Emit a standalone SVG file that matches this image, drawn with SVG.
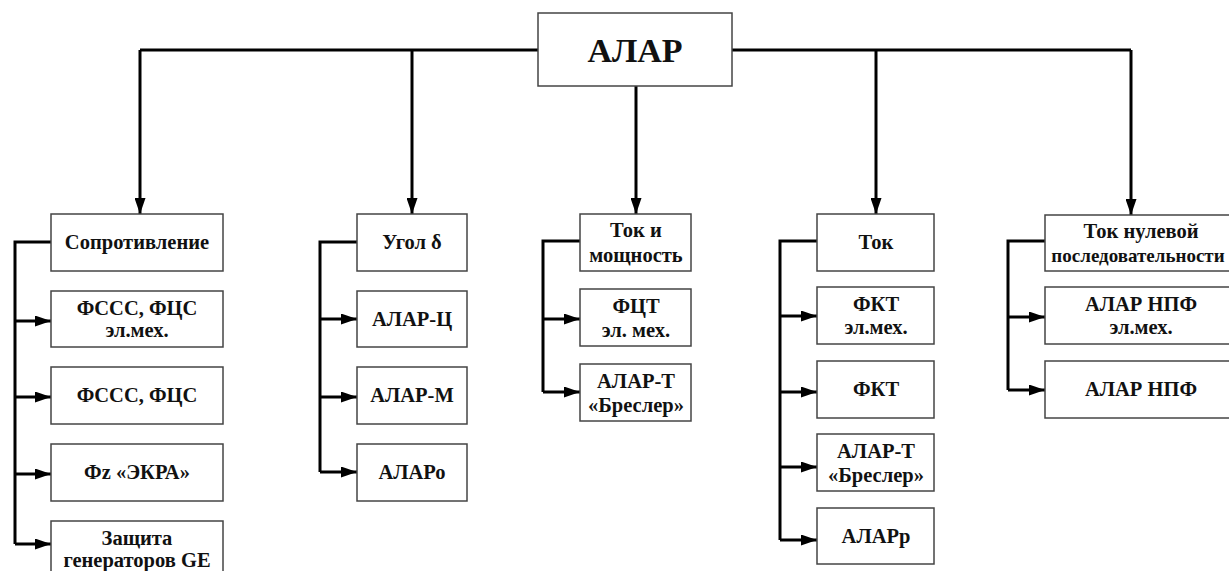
<svg xmlns="http://www.w3.org/2000/svg" width="1229" height="571" viewBox="0 0 1229 571">
<defs>
<marker id="ah" markerWidth="16" markerHeight="11" refX="16" refY="5.5" orient="auto" markerUnits="userSpaceOnUse">
<path d="M0,0 L16,5.5 L0,11 Z" fill="#000"/>
</marker>
<style>
.b{fill:#fff;stroke:#444;stroke-width:1.5}
.t{font-family:"Liberation Serif","Times New Roman",serif;font-weight:bold;font-size:20.5px;fill:#111;text-anchor:middle}
.big{font-size:34px}
.sm{font-size:19px}
.c{fill:none;stroke:#000;stroke-width:3}
.a{fill:none;stroke:#000;stroke-width:3;marker-end:url(#ah)}
</style>
</defs>
<rect width="1229" height="571" fill="#fff"/>
<g id="connectors">
<path class="c" d="M140,50 H1131"/>
<path class="a" d="M140,50 V214"/>
<path class="a" d="M412,50 V214"/>
<path class="a" d="M636,86 V214"/>
<path class="a" d="M876,50 V214"/>
<path class="a" d="M1131,50 V215"/>
<path class="c" d="M51,242 H15 V544"/>
<path class="a" d="M15,321 H51"/>
<path class="a" d="M15,397 H51"/>
<path class="a" d="M15,474 H51"/>
<path class="a" d="M15,544 H51"/>
<path class="c" d="M357,242 H320 V472"/>
<path class="a" d="M320,319 H357"/>
<path class="a" d="M320,397 H357"/>
<path class="a" d="M320,472 H357"/>
<path class="c" d="M580,241 H543 V392"/>
<path class="a" d="M543,319 H580"/>
<path class="a" d="M543,392 H580"/>
<path class="c" d="M817,241 H780 V540"/>
<path class="a" d="M780,316 H817"/>
<path class="a" d="M780,392 H817"/>
<path class="a" d="M780,467 H817"/>
<path class="a" d="M780,540 H817"/>
<path class="c" d="M1045,241 H1008 V390"/>
<path class="a" d="M1008,317 H1045"/>
<path class="a" d="M1008,390 H1045"/>
</g>
<g id="root"><rect class="b" x="538" y="13" width="194" height="73"/><text class="t big" x="635" y="62">АЛАР</text></g>

<g id="n1"><rect class="b" x="51" y="214" width="172" height="57"/><text class="t" x="137" y="249">Сопротивление</text></g>
<g id="n1a"><rect class="b" x="51" y="291" width="172" height="56"/><text class="t" x="137" y="315">ФССС, ФЦС</text><text class="t" x="137" y="337">эл.мех.</text></g>
<g id="n1b"><rect class="b" x="51" y="367" width="172" height="57"/><text class="t" x="137" y="402">ФССС, ФЦС</text></g>
<g id="n1c"><rect class="b" x="51" y="444" width="172" height="57"/><text class="t" x="137" y="479">Фz «ЭКРА»</text></g>
<g id="n1d"><rect class="b" x="51" y="521" width="172" height="60"/><text class="t" x="137" y="545">Защита</text><text class="t" x="137" y="567">генераторов GE</text></g>

<g id="n2"><rect class="b" x="357" y="214" width="110" height="57"/><text class="t" x="412" y="249">Угол δ</text></g>
<g id="n2a"><rect class="b" x="357" y="291" width="110" height="56"/><text class="t" x="412" y="326">АЛАР-Ц</text></g>
<g id="n2b"><rect class="b" x="357" y="367" width="110" height="57"/><text class="t" x="412" y="402">АЛАР-М</text></g>
<g id="n2c"><rect class="b" x="357" y="444" width="110" height="57"/><text class="t" x="412" y="479">АЛАРо</text></g>

<g id="n3"><rect class="b" x="580" y="214" width="111" height="57"/><text class="t" x="636" y="237">Ток и</text><text class="t" x="636" y="262">мощность</text></g>
<g id="n3a"><rect class="b" x="580" y="289" width="111" height="57"/><text class="t" x="636" y="313">ФЦТ</text><text class="t" x="636" y="337">эл. мех.</text></g>
<g id="n3b"><rect class="b" x="580" y="364" width="111" height="57"/><text class="t" x="636" y="388">АЛАР-Т</text><text class="t" x="636" y="412">«Бреслер»</text></g>

<g id="n4"><rect class="b" x="817" y="214" width="117" height="57"/><text class="t" x="876" y="249">Ток</text></g>
<g id="n4a"><rect class="b" x="817" y="287" width="117" height="57"/><text class="t" x="876" y="311">ФКТ</text><text class="t" x="876" y="334">эл.мех.</text></g>
<g id="n4b"><rect class="b" x="817" y="361" width="117" height="57"/><text class="t" x="876" y="396">ФКТ</text></g>
<g id="n4c"><rect class="b" x="817" y="434" width="117" height="57"/><text class="t" x="876" y="458">АЛАР-Т</text><text class="t" x="876" y="482">«Бреслер»</text></g>
<g id="n4d"><rect class="b" x="817" y="508" width="117" height="56"/><text class="t" x="876" y="543">АЛАРр</text></g>

<g id="n5"><rect class="b" x="1045" y="215" width="195" height="56"/><text class="t" x="1141" y="238">Ток нулевой</text><text class="t sm" x="1138" y="262">последовательности</text></g>
<g id="n5a"><rect class="b" x="1045" y="287" width="195" height="57"/><text class="t" x="1141" y="311">АЛАР НПФ</text><text class="t" x="1141" y="334">эл.мех.</text></g>
<g id="n5b"><rect class="b" x="1045" y="361" width="195" height="57"/><text class="t" x="1141" y="396">АЛАР НПФ</text></g>
</svg>
